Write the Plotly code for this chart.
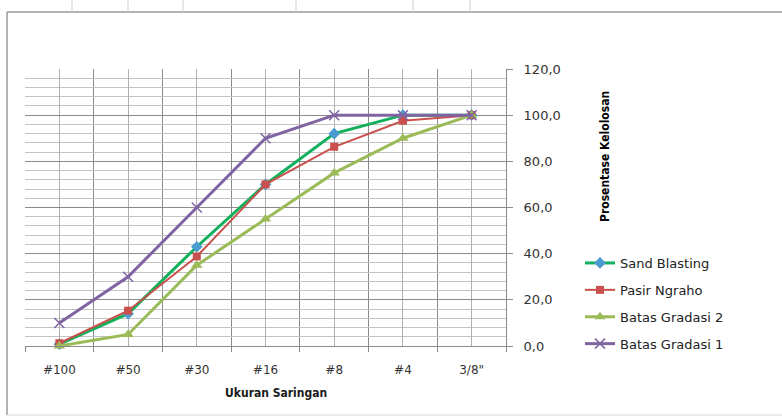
import plotly.graph_objects as go

categories = ["#100", "#50", "#30", "#16", "#8", "#4", "3/8\""]
sand_blasting = [0.8, 14.0, 43.0, 70.0, 92.0, 100.0, 100.0]
pasir_ngraho = [1.2, 15.3, 38.8, 70.0, 86.3, 97.6, 100.0]
batas_gradasi_2 = [0.0, 5.0, 35.0, 55.0, 75.0, 90.0, 100.0]
batas_gradasi_1 = [10.0, 30.0, 60.0, 90.0, 100.0, 100.0, 100.0]
y_ticks = [0, 20, 40, 60, 80, 100, 120]
y_tick_labels = ["0,0", "20,0", "40,0", "60,0", "80,0", "100,0", "120,0"]

W, H = 782, 418
L, R, T, B = 25, 506, 69, 346  # plot area in pixels

x_idx = list(range(len(categories)))

fig = go.Figure()
series = [
    ("Sand Blasting", sand_blasting, "#12b05c", 3, dict(symbol="diamond", size=9, color="#4a9bd0")),
    ("Pasir Ngraho", pasir_ngraho, "#c9504c", 2, dict(symbol="square", size=8, color="#c9504c")),
    ("Batas Gradasi 2", batas_gradasi_2, "#9bbb59", 3, dict(symbol="triangle-up", size=10, color="#9bbb59")),
    ("Batas Gradasi 1", batas_gradasi_1, "#8064a2", 3, dict(symbol="x-thin", size=10, color="#8064a2",
                                                            line=dict(width=1.5, color="#8064a2"))),
]
for i, (name, vals, col, w, mk) in enumerate(series):
    fig.add_trace(go.Scatter(
        x=x_idx, y=vals, name=name, mode="lines+markers",
        line=dict(color=col, width=w), marker=mk, legendgroup=f"g{i}",
        cliponaxis=False,
    ))

fig.update_xaxes(
    range=[-0.5, 6.5], tickmode="array", tickvals=x_idx, ticktext=categories,
    showgrid=True, gridcolor="#b0b0b0", gridwidth=1,
    minor=dict(tickmode="array", tickvals=[k - 0.5 for k in range(len(categories) + 1)],
               showgrid=True, gridcolor="#8a8a8a", gridwidth=1,
               ticks="outside", ticklen=5, tickcolor="#8a8a8a"),
    ticks="", showline=True, linecolor="#8a8a8a", linewidth=1,
    zeroline=False, tickfont=dict(family="DejaVu Sans", size=12, color="#333333"),
    ticklabelstandoff=13, fixedrange=True,
)
fig.update_yaxes(
    range=[0, 120], side="right", tickmode="array", tickvals=y_ticks, ticktext=y_tick_labels,
    showgrid=True, gridcolor="#8a8a8a", gridwidth=1,
    minor=dict(dtick=4, tick0=0, showgrid=True, gridcolor="#c4c4c4", gridwidth=1),
    ticks="outside", ticklen=6, tickcolor="#8a8a8a",
    showline=True, linecolor="#8a8a8a", linewidth=1, mirror=False,
    zeroline=False, tickfont=dict(family="DejaVu Sans", size=13, color="#333333"),
    ticklabelstandoff=8, fixedrange=True,
)

def px(xp):
    return (xp - L) / (R - L)

def py(yp):
    return (B - yp) / (B - T)

fig.add_annotation(
    text="<b>Prosentase Kelolosan</b>", textangle=-90, showarrow=False,
    xref="paper", yref="paper", x=px(605), y=py(157), xanchor="center", yanchor="middle",
    font=dict(family="Liberation Sans Narrow, DejaVu Sans Condensed, Liberation Sans", size=12, color="#000000"),
)
fig.add_annotation(
    text="<b>Ukuran Saringan</b>", showarrow=False,
    xref="paper", yref="paper", x=px(276), y=py(393), xanchor="center", yanchor="middle",
    font=dict(family="Liberation Sans Narrow, DejaVu Sans Condensed, Liberation Sans", size=12, color="#1a1a1a"),
)

# chart frame and spreadsheet lines above it
frame = "#9a9a9a"
fig.add_shape(type="line", xref="paper", yref="paper", x0=px(7), x1=px(782), y0=py(12), y1=py(12),
              line=dict(color=frame, width=1.5))
fig.add_shape(type="line", xref="paper", yref="paper", x0=px(7), x1=px(7), y0=py(12), y1=py(415),
              line=dict(color=frame, width=1.5))
fig.add_shape(type="line", xref="paper", yref="paper", x0=px(7), x1=px(782), y0=py(415), y1=py(415),
              line=dict(color="#d8d8d8", width=1))
for cx in [72, 128, 183, 296, 413, 470]:
    fig.add_shape(type="line", xref="paper", yref="paper", x0=px(cx), x1=px(cx), y0=py(0), y1=py(12),
                  line=dict(color="#d0d0d0", width=1))

fig.update_layout(
    width=W, height=H, autosize=False,
    margin=dict(l=L, r=W - R, t=T, b=H - B, pad=0),
    paper_bgcolor="white", plot_bgcolor="white",
    showlegend=True,
    legend=dict(
        x=px(580), y=py(248), xanchor="left", yanchor="top",
        font=dict(family="DejaVu Sans", size=13, color="#222222"),
        tracegroupgap=7, itemwidth=30, bgcolor="rgba(0,0,0,0)",
    ),
)

fig.write_html("out.html")
